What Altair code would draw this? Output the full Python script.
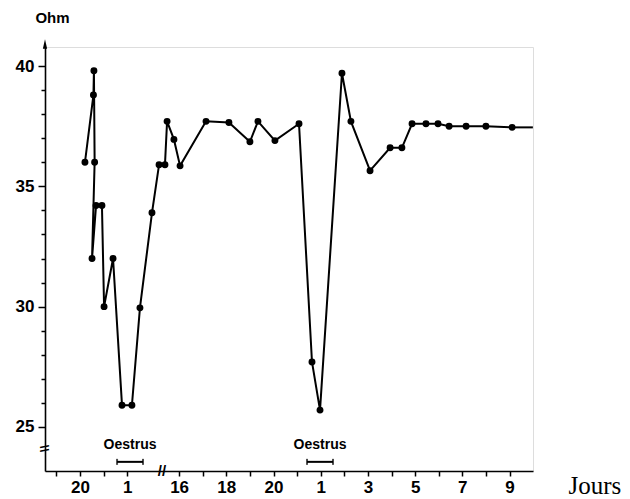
import altair as alt
import pandas as pd

# ---- data ----
pos = [0.21, 0.57, 0.59, 0.62, 0.51, 0.68, 0.93, 1.02, 1.40, 1.78, 2.20, 2.54,
       3.05, 3.35, 3.60, 3.69, 3.98, 4.24, 5.34, 6.31, 7.20, 7.54, 8.26, 9.28,
       9.83, 10.17, 11.10, 11.48, 12.29, 13.14, 13.64, 14.07, 14.66, 15.17,
       15.64, 16.36, 17.20, 18.31]
ohm = [36.0, 38.8, 39.8, 36.0, 32.0, 34.2, 34.2, 30.0, 32.0, 25.9, 25.9, 29.95,
       33.9, 35.9, 35.9, 37.7, 36.95, 35.85, 37.7, 37.65, 36.85, 37.7, 36.9, 37.6,
       27.7, 25.7, 39.7, 37.7, 35.65, 36.6, 36.6, 37.6, 37.6, 37.6,
       37.5, 37.5, 37.5, 37.45]
tail_pos = [18.31, 19.19]
tail_ohm = [37.45, 37.45]

tick_pos = [-1, 0, 1, 2] + [round(4.2 + i, 2) for i in range(15)]
tick_day = [19, 20, 21, 1, 16, 17, 18, 19, 20, 21, 1, 2, 3, 4, 5, 6, 7, 8, 9]
y_ticks = list(range(25, 41))

oestrus_start = [1.57, 9.62]
oestrus_end = [2.67, 10.72]
oestrus_label = ["Oestrus", "Oestrus"]

X_DOM = [-1.483, 19.195]
Y_DOM = [23.17, 40.79]

df = pd.DataFrame({"seq": range(len(pos)), "pos": pos, "ohm": ohm})
tail = pd.DataFrame({"seq": [0, 1], "pos": tail_pos, "ohm": tail_ohm})
oes = pd.DataFrame({"x1": oestrus_start, "x2": oestrus_end, "label": oestrus_label})
oes["xm"] = (oes.x1 + oes.x2) / 2
oes["y"] = 23.55
oes["ty"] = 24.09

FONT = "Liberation Sans"

labels = ["" if not ((d >= 16 and d % 2 == 0) or (d <= 9 and d % 2 == 1)) else str(d)
          for d in tick_day]
label_expr = ("[" + ",".join("'" + s + "'" for s in labels) + "][indexof(["
              + ",".join(str(p) for p in tick_pos) + "], datum.value)]")

xscale = alt.Scale(domain=X_DOM, nice=False, zero=False)
yscale = alt.Scale(domain=Y_DOM, nice=False, zero=False)

xaxis = alt.Axis(values=tick_pos, tickCount=100, labelExpr=label_expr, grid=False,
                 domainColor="black", domainWidth=1.6, tickColor="black",
                 tickWidth=1.5, tickSize=5, labelFont=FONT, labelFontWeight="bold",
                 labelFontSize=17, labelColor="black", labelPadding=3,
                 labelFlush=False, labelOverlap=False,
                 title="Jours", titleFont="Liberation Serif", titleFontWeight="normal",
                 titleFontSize=25, titleColor="black", titleAlign="left",
                 titleBaseline="alphabetic", titleX=523, titleY=22, titleAnchor="start")
yaxis = alt.Axis(values=y_ticks, tickCount=100, format="d",
                 labelExpr="datum.value % 5 === 0 ? format(datum.value, 'd') : ''",
                 grid=False, domainColor="black", domainWidth=1.6, tickColor="black",
                 tickWidth=1.5,
                 tickSize={"condition": {"test": "datum.value % 5 === 0", "value": 7}, "value": 4},
                 labelFont=FONT, labelFontWeight="bold", labelFontSize=17,
                 labelColor="black", labelPadding=4, labelFlush=False, labelOverlap=False,
                 title="Ohm", titleFont=FONT, titleFontWeight="bold", titleFontSize=15,
                 titleColor="black", titleAngle=0, titleAlign="center",
                 titleBaseline="alphabetic", titleX=7, titleY=-25)

line = alt.Chart(df).mark_line(color="black", strokeWidth=2).encode(
    x=alt.X("pos:Q", scale=xscale, axis=xaxis),
    y=alt.Y("ohm:Q", scale=yscale, axis=yaxis),
    order="seq:Q",
)
tail_line = alt.Chart(tail).mark_line(color="black", strokeWidth=2).encode(
    x=alt.X("pos:Q", scale=xscale), y=alt.Y("ohm:Q", scale=yscale), order="seq:Q")
pts = alt.Chart(df).mark_circle(color="black", opacity=1, size=48).encode(
    x=alt.X("pos:Q", scale=xscale), y=alt.Y("ohm:Q", scale=yscale))

bars = alt.Chart(oes).mark_rule(color="black", strokeWidth=2).encode(
    x=alt.X("x1:Q", scale=xscale), x2="x2:Q", y=alt.Y("y:Q", scale=yscale))
caps_l = alt.Chart(oes).mark_tick(color="black", thickness=2, size=6, orient="vertical").encode(
    x=alt.X("x1:Q", scale=xscale), y=alt.Y("y:Q", scale=yscale))
caps_r = alt.Chart(oes).mark_tick(color="black", thickness=2, size=6, orient="vertical").encode(
    x=alt.X("x2:Q", scale=xscale), y=alt.Y("y:Q", scale=yscale))
otext = alt.Chart(oes).mark_text(font=FONT, fontWeight="bold", fontSize=14,
                                 baseline="alphabetic", color="black").encode(
    x=alt.X("xm:Q", scale=xscale), y=alt.Y("ty:Q", scale=yscale), text="label:N")

# decorations: axis arrow and axis breaks
deco = pd.DataFrame({"x": [X_DOM[0]], "y": [Y_DOM[1]]})
arrow = alt.Chart(deco).mark_point(shape="M0,-1L0.45,1L-0.45,1Z", filled=True,
                                   color="black", opacity=1, size=90, yOffset=-3).encode(
    x=alt.X("x:Q", scale=xscale), y=alt.Y("y:Q", scale=yscale))
brk = pd.DataFrame({"x": [3.47], "y": [Y_DOM[0]]})
xbreak = alt.Chart(brk).mark_text(text="//", font=FONT, fontWeight="bold", fontSize=15,
                                  color="black").encode(
    x=alt.X("x:Q", scale=xscale), y=alt.Y("y:Q", scale=yscale))
ybrk = pd.DataFrame({"x": [X_DOM[0]], "y": [24.1]})
ybreak = alt.Chart(ybrk).mark_text(text="\\\\", font=FONT, fontWeight="bold", fontSize=13,
                                   angle=270, color="black").encode(
    x=alt.X("x:Q", scale=xscale), y=alt.Y("y:Q", scale=yscale))

chart = alt.layer(line, tail_line, pts, bars, caps_l, caps_r, otext, arrow,
                  xbreak, ybreak).properties(
    width=488, height=424,
    padding={"left": 37, "top": 39, "right": 89, "bottom": 26},
    autosize=alt.AutoSizeParams(type="none"),
).configure_view(stroke=None).configure(background="white")

chart.save("out.html", embed_options={"renderer": "svg", "actions": False})
